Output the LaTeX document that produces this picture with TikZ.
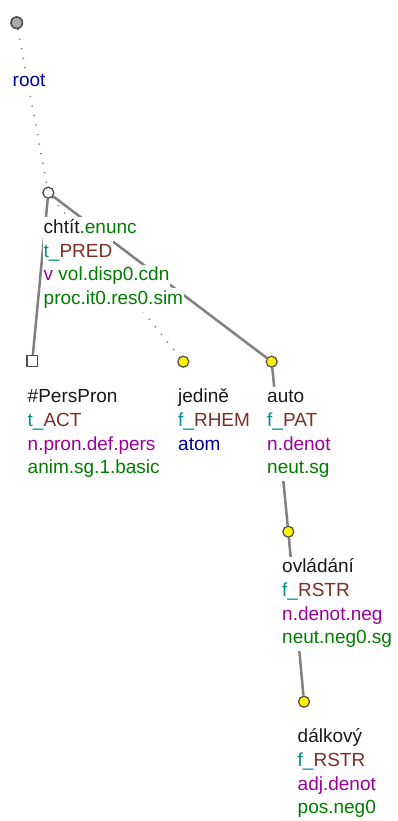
\documentclass[tikz,border=0pt]{standalone}
\usepackage{fontspec}
\setmainfont{Liberation Sans}
\usetikzlibrary{backgrounds}
\definecolor{cgreen}{RGB}{0,125,0}
\definecolor{cteal}{RGB}{0,140,140}
\definecolor{cbrown}{RGB}{125,45,35}
\definecolor{cpurple}{RGB}{155,0,155}
\definecolor{cblue}{RGB}{0,0,160}
\definecolor{ctext}{RGB}{25,25,25}
\definecolor{cedge}{RGB}{128,128,128}
\definecolor{cborder}{RGB}{75,75,75}
\definecolor{crootfill}{RGB}{170,170,170}
\begin{document}
\begin{tikzpicture}[x=1pt,y=-1pt,
  lbl/.style={anchor=base west, inner sep=0pt, inner xsep=0.5pt, fill=white, text height=16pt, text depth=7.7pt, text=ctext, font=\fontsize{19}{22}\selectfont},
  yelnode/.style={circle, draw=cborder, fill=yellow, line width=1.2pt, minimum size=11pt, inner sep=0pt},
  rootnode/.style={circle, draw=cborder, fill=crootfill, line width=1.5pt, minimum size=11.5pt, inner sep=0pt},
  opennode/.style={circle, draw=cborder, fill=white, line width=1.3pt, minimum size=11pt, inner sep=0pt},
  sqnode/.style={rectangle, draw=cborder, fill=white, line width=1.3pt, minimum size=10.5pt, inner sep=0pt},
  solidedge/.style={draw=cedge, line width=2.5pt},
  dotedge/.style={draw=cedge, line width=1.6pt, dash pattern=on 1.2pt off 8.5pt},
]
\useasboundingbox (0,0) rectangle (398,821);

% tree nodes
\node[rootnode] (root) at (16.7,22.7) {};
\node[opennode] (chtit) at (48.3,192.7) {};
\node[sqnode] (pers) at (32.3,361) {};
\node[yelnode] (jedine) at (183.3,361.7) {};
\node[yelnode] (auto) at (271.7,361.7) {};
\node[yelnode] (ovl) at (288.3,531.7) {};
\node[yelnode] (dal) at (304,701.7) {};

% connectors
\begin{pgfonlayer}{background}
\fill[white] (0,0) rectangle (398,821);
\draw[dotedge] (root) -- (chtit);
\draw[solidedge] (chtit) -- (pers);
\draw[dotedge] (chtit) -- (jedine);
\draw[solidedge] (chtit) -- (auto);
\draw[solidedge] (auto) -- (ovl);
\draw[solidedge] (ovl) -- (dal);
\end{pgfonlayer}

% labels
\node[lbl] (rootl) at (12,87) {\textcolor{cblue}{root}};

\node[lbl] (chtit1) at (43,233.3) {chtít\textcolor{cgreen}{.enunc}};
\node[lbl] (chtit2) at (43,257) {\textcolor{cteal}{t\_}\textcolor{cbrown}{PRED}};
\node[lbl] (chtit3) at (43,280.7) {\textcolor{cpurple}{v} \textcolor{cgreen}{vol.disp0.cdn}};
\node[lbl] (chtit4) at (43,304.3) {\textcolor{cgreen}{proc.it0.res0.sim}};

\node[lbl] (pers1) at (27,402.7) {\#PersPron};
\node[lbl] (pers2) at (27,426.4) {\textcolor{cteal}{t\_}\textcolor{cbrown}{ACT}};
\node[lbl] (pers3) at (27,450) {\textcolor{cpurple}{n.pron.def.pers}};
\node[lbl] (pers4) at (27,473.7) {\textcolor{cgreen}{anim.sg.1.basic}};

\node[lbl] (jed1) at (177.5,402.7) {jedině};
\node[lbl] (jed2) at (177.5,426.4) {\textcolor{cteal}{f\_}\textcolor{cbrown}{RHEM}};
\node[lbl] (jed3) at (177.5,450) {\textcolor{cblue}{atom}};

\node[lbl] (auto1) at (266.5,402.7) {auto};
\node[lbl] (auto2) at (266.5,426.4) {\textcolor{cteal}{f\_}\textcolor{cbrown}{PAT}};
\node[lbl] (auto3) at (266.5,450) {\textcolor{cpurple}{n.denot}};
\node[lbl] (auto4) at (266.5,473.7) {\textcolor{cgreen}{neut.sg}};

\node[lbl] (ovl1) at (281.5,572.7) {ovládání};
\node[lbl] (ovl2) at (281.5,596.4) {\textcolor{cteal}{f\_}\textcolor{cbrown}{RSTR}};
\node[lbl] (ovl3) at (281.5,620) {\textcolor{cpurple}{n.denot.neg}};
\node[lbl] (ovl4) at (281.5,643.7) {\textcolor{cgreen}{neut.neg0.sg}};

\node[lbl] (dal1) at (297,742.7) {dálkový};
\node[lbl] (dal2) at (297,766.4) {\textcolor{cteal}{f\_}\textcolor{cbrown}{RSTR}};
\node[lbl] (dal3) at (297,790) {\textcolor{cpurple}{adj.denot}};
\node[lbl] (dal4) at (297,813.7) {\textcolor{cgreen}{pos.neg0}};
\end{tikzpicture}
\end{document}
